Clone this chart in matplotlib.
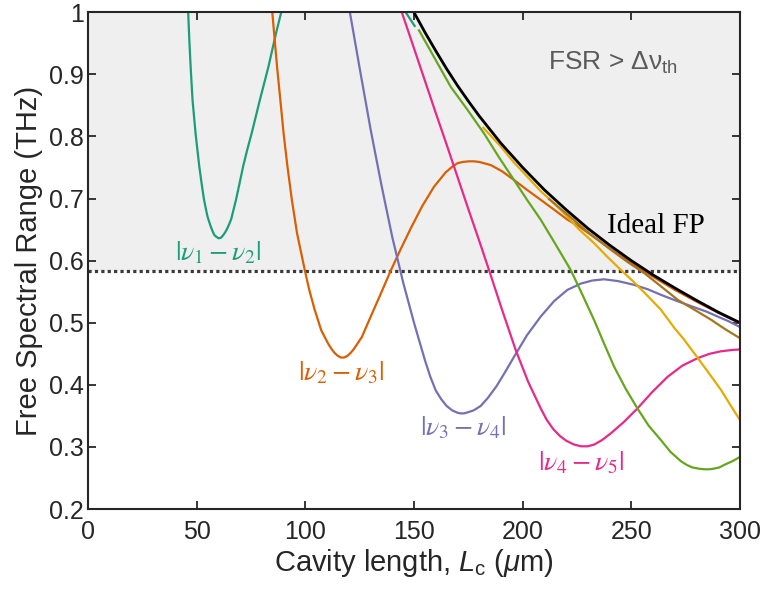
import numpy as np
import matplotlib
matplotlib.use("Agg")
import matplotlib.pyplot as plt
from matplotlib.ticker import FixedLocator, FuncFormatter

plt.rcParams['font.family'] = ['Liberation Sans', 'DejaVu Sans']
plt.rcParams['mathtext.fontset'] = 'custom'
plt.rcParams['mathtext.rm'] = 'Liberation Sans'
plt.rcParams['mathtext.it'] = 'Liberation Sans:italic'
plt.rcParams['mathtext.bf'] = 'Liberation Sans:bold'

nan = np.nan

# |v1 - v2|
teal_x = [46.1, 46.7, 47.3, 48.1, 49.5, 51.2, 52.3, 53.3, 54.2, 55.0, 55.9, 56.7, 57.5, 58.2, 59.2,
          60.2, 61.2, 62.2, 63.2, 64.1, 65.0, 65.9, 66.9, 68.1, 69.7, 71.4, 73.3, 75.3, 79.1, 83.0,
          86.5, 88.9, nan, 146.2, 150.3]
teal_y = [1.0, 0.950, 0.908, 0.859, 0.805, 0.752, 0.724, 0.700, 0.684, 0.671, 0.661, 0.653, 0.646, 0.641, 0.638,
          0.636, 0.637, 0.641, 0.646, 0.652, 0.659, 0.667, 0.681, 0.698, 0.724, 0.752, 0.779, 0.805, 0.859, 0.912,
          0.966, 1.0, nan, 1.0, 0.978]

# |v2 - v3|
orange_x = [84.8, 87.0, 88.5, 90.0, 91.8, 93.8, 96.2, 99.8, 101.8, 104.3, 107.3, 110.4, 112.0, 113.3,
            114.8, 116.3, 117.9, 119.5, 121.0, 122.4, 126.0, 130.1, 134.5, 139.3, 143.8, 148.5, 153.8,
            159.2, 164.5, 167.5, 170.0, 172.5, 175.3, 177.5, 180.0, 185.3, 190.5, 196.0, 202.0, 208.3,
            214.5, 220.6, 226.0, 232.0, 240.0, 250.0, 260.0, 270.0, 280.0, 290.0, 300.0]
orange_y = [1.0, 0.912, 0.859, 0.805, 0.751, 0.698, 0.644, 0.584, 0.553, 0.521, 0.488, 0.467, 0.458, 0.452,
            0.447, 0.444, 0.444, 0.447, 0.452, 0.458, 0.477, 0.510, 0.545, 0.584, 0.618, 0.652, 0.688,
            0.719, 0.742, 0.751, 0.757, 0.759, 0.760, 0.760, 0.759, 0.754, 0.744, 0.730, 0.714, 0.698,
            0.682, 0.666, 0.655, 0.640, 0.620, 0.596, 0.574, 0.553, 0.534, 0.516, 0.499]

# |v3 - v4|
purple_x = [120.5, 125.0, 130.0, 135.0, 140.0, 145.0, 150.0, 155.0, 157.5, 160.0, 162.5, 165.0, 167.5,
            170.0, 171.5, 173.0, 175.0, 177.5, 180.7, 184.0, 188.0, 192.0, 196.0, 202.0, 208.3, 214.5,
            220.6, 226.7, 232.0, 237.5, 244.0, 251.3, 257.5, 263.6, 271.0, 278.9, 284.5, 289.7, 295.0,
            300.0]
purple_y = [1.0, 0.910, 0.812, 0.722, 0.638, 0.565, 0.500, 0.440, 0.413, 0.391, 0.377, 0.366, 0.359,
            0.355, 0.354, 0.354, 0.356, 0.359, 0.366, 0.379, 0.398, 0.421, 0.445, 0.480, 0.510, 0.535,
            0.553, 0.563, 0.568, 0.570, 0.567, 0.561, 0.554, 0.545, 0.535, 0.525, 0.518, 0.510, 0.502,
            0.493]

# |v4 - v5|
pink_x = [144.4, 150.0, 155.0, 160.0, 165.0, 170.0, 175.0, 180.0, 184.5, 190.5, 196.8, 202.5, 208.3,
          211.0, 214.0, 217.0, 220.0, 223.5, 226.7, 230.0, 233.0, 236.5, 240.6, 246.5, 252.8, 259.5,
          266.7, 273.5, 280.5, 286.0, 291.2, 296.0, 300.0]
pink_y = [1.0, 0.942, 0.890, 0.838, 0.787, 0.735, 0.683, 0.632, 0.585, 0.521, 0.456, 0.405, 0.362,
          0.344, 0.329, 0.318, 0.310, 0.304, 0.301, 0.301, 0.304, 0.311, 0.322, 0.340, 0.362, 0.388,
          0.413, 0.431, 0.443, 0.450, 0.454, 0.456, 0.457]

# |v5 - v6|
lime_x = [152.3, 159.2, 166.9, 174.6, 182.2, 189.0, 196.0, 202.0, 208.3, 215.0, 222.1, 227.5, 232.9,
          237.5, 242.1, 247.5, 252.8, 258.0, 263.6, 268.0, 272.8, 275.5, 278.0, 281.0, 283.5, 286.0,
          288.0, 290.5, 292.7, 296.5, 300.0]
lime_y = [0.971, 0.928, 0.880, 0.843, 0.805, 0.767, 0.730, 0.698, 0.666, 0.627, 0.585, 0.545, 0.504,
          0.466, 0.429, 0.393, 0.362, 0.334, 0.311, 0.292, 0.277, 0.271, 0.267, 0.265, 0.264, 0.264,
          0.265, 0.267, 0.271, 0.277, 0.284]

# |v6 - v7|
yellow_x = [181.9, 189.9, 196.0, 202.2, 208.0, 214.5, 220.0, 226.0, 232.9, 239.0, 245.2, 251.0, 257.0,
            263.6, 269.7, 274.0, 278.9, 285.0, 291.2, 296.0, 300.0]
yellow_y = [0.814, 0.784, 0.758, 0.735, 0.713, 0.692, 0.673, 0.650, 0.628, 0.606, 0.585, 0.566, 0.545,
            0.521, 0.492, 0.474, 0.451, 0.422, 0.392, 0.365, 0.343]

# |v7 - v8|
brown_x = [212.2, 220.0, 230.0, 240.0, 248.2, 255.9, 263.5, 271.3, 279.0, 286.6, 293.0, 300.0]
brown_y = [0.699, 0.676, 0.646, 0.619, 0.598, 0.580, 0.559, 0.537, 0.521, 0.505, 0.490, 0.475]

# Ideal FP
ideal_x = [150.3, 155, 160, 165, 170, 175, 180, 190, 200, 210, 220, 230, 240, 250, 260, 270, 280, 290, 300]
ideal_y = [0.998, 0.968, 0.938, 0.909, 0.882, 0.857, 0.833, 0.789, 0.750, 0.714, 0.682, 0.652, 0.625,
           0.600, 0.577, 0.556, 0.536, 0.517, 0.500]

threshold = 0.584

x_ticks = [0, 50, 100, 150, 200, 250, 300]
y_ticks = [0.2, 0.3, 0.4, 0.5, 0.6, 0.7, 0.8, 0.9, 1.0]

fig = plt.figure(figsize=(7.63, 5.92), dpi=100)
ax = fig.add_axes([0.1153, 0.1402, 0.8546, 0.8390])

ax.axhspan(threshold, 1.0, color='#efefef', zorder=0, lw=0)
ax.axhline(threshold, color='#3a3a3a', lw=2.3, linestyle=(0, (1, 1)), zorder=1)

lw = 1.6
ax.plot(teal_x, teal_y, color='#1b9e77', lw=lw)
ax.plot(orange_x, orange_y, color='#d95f02', lw=lw)
ax.plot(purple_x, purple_y, color='#7570b3', lw=lw)
ax.plot(pink_x, pink_y, color='#e7298a', lw=lw)
ax.plot(lime_x, lime_y, color='#66a61e', lw=lw)
ax.plot(yellow_x, yellow_y, color='#e6ab02', lw=lw)
ax.plot(brown_x, brown_y, color='#a6761d', lw=lw)
ax.plot(ideal_x, ideal_y, color='black', lw=2.0)

ax.set_xlim(0, 300)
ax.set_ylim(0.2, 1.0)
ax.xaxis.set_major_locator(FixedLocator(x_ticks))
ax.yaxis.set_major_locator(FixedLocator(y_ticks))
ax.yaxis.set_major_formatter(FuncFormatter(lambda v, p: '1' if abs(v - 1) < 1e-9 else f'{v:.1f}'))
ax.tick_params(direction='in', top=True, right=True, length=6, width=1.3,
               labelsize=18, colors='#262626')
ax.tick_params(axis='x', pad=8)
ax.tick_params(axis='y', pad=3)
for s in ax.spines.values():
    s.set_linewidth(1.5)
    s.set_color('#262626')

ax.set_xlabel(r'Cavity length, $L_{\mathrm{c}}$ ($\mu$m)', fontsize=21, color='#262626', labelpad=2)
ax.set_ylabel('Free Spectral Range (THz)', fontsize=21, color='#262626', labelpad=4)

lab_kw = dict(fontsize=20, ha='center', va='center', math_fontfamily='stix')
ax.text(60.0, 0.612, r'$|\nu_1 - \nu_2|$', color='#1b9e77', **lab_kw)
ax.text(116.3, 0.419, r'$|\nu_2 - \nu_3|$', color='#d95f02', **lab_kw)
ax.text(172.7, 0.330, r'$|\nu_3 - \nu_4|$', color='#7570b3', **lab_kw)
ax.text(227.0, 0.274, r'$|\nu_4 - \nu_5|$', color='#e7298a', **lab_kw)
ax.text(261.5, 0.656, 'Ideal FP', color='black', fontsize=21, ha='center', va='center',
        family=['Liberation Serif', 'DejaVu Serif'])
ax.text(241.5, 0.918, r'FSR > Δν$_{\mathrm{th}}$', color='#5a5a5a', fontsize=19, ha='center', va='center')

fig.savefig('out.png', dpi=100)
